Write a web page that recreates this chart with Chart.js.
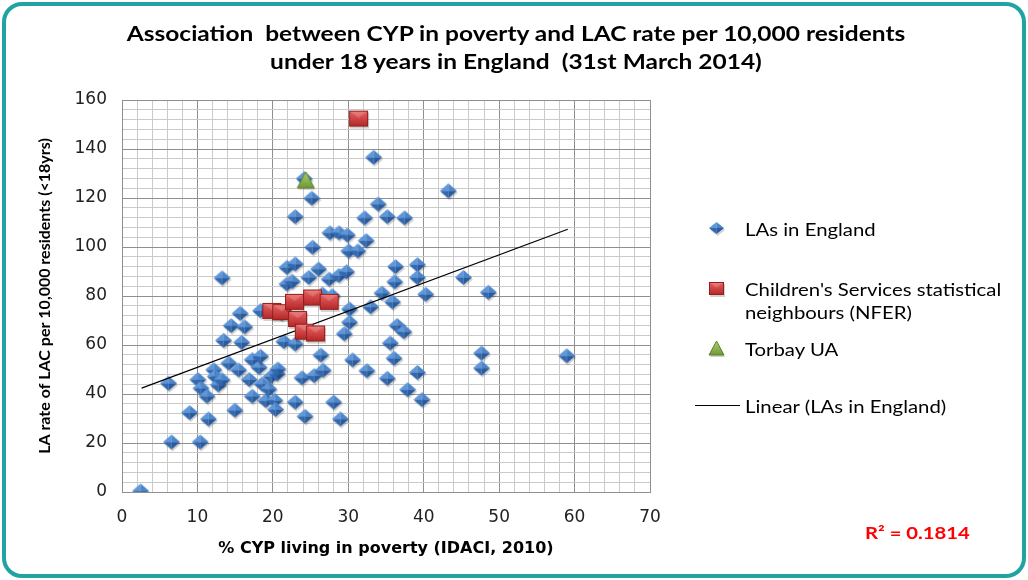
<!DOCTYPE html>
<html lang="en">
<head>
  <meta charset="UTF-8">
  <title>CYP in poverty and LAC rate - England 2014</title>
  <script src="https://cdn.jsdelivr.net/npm/chart.js@4"></script>
  <style>
    html, body { margin: 0; padding: 0; background: #fff; }
    body { width: 1028px; height: 580px; position: relative; overflow: hidden; font-family: Lato, "Open Sans", sans-serif; color: #000; }
    .frame { position: absolute; left: 2px; top: 2px; width: 1016px; height: 568px; border: 4px solid #21a3a3; border-radius: 20px; }
    #chart { position: absolute; left: 0; top: 0; }
    /* the original picture is stretched sideways, so the text is too */
    .title { position: absolute; left: 0; top: 19px; width: 1032px; text-align: center; font-weight: bold; font-size: 20px; line-height: 28px; white-space: pre; transform: scaleX(1.225); transform-origin: 516px 0; }
    .legend div { position: absolute; font-size: 18px; line-height: 23px; white-space: nowrap; transform: scaleX(1.13); transform-origin: 0 0; }
    .legend canvas { position: absolute; }
    .legend .line { position: absolute; left: 695px; top: 405px; width: 45px; height: 1px; background: #000; }
    .r2 { position: absolute; left: 865px; top: 522px; color: #ff0000; font-weight: bold; font-size: 17px; transform: scaleX(1.19); transform-origin: 0 0; }
  </style>
</head>
<body>
  <div class="frame"></div>
  <canvas id="chart" width="1028" height="580"></canvas>
  <div class="title">Association  between CYP in poverty and LAC rate per 10,000 residents
under 18 years in England  (31st March 2014)</div>
  <div class="legend" id="legend">
    <div style="left:745px; top:218px;">LAs in England</div>
    <div style="left:745px; top:278px;">Children's Services statistical<br>neighbours (NFER)</div>
    <div style="left:745px; top:338px;">Torbay UA</div>
    <span class="line"></span>
    <div style="left:745px; top:395px;">Linear (LAs in England)</div>
  </div>
  <div class="r2">R² = 0.1814</div>
  <script>
    // values
    const laPoverty = [2.6, 6.3, 6.7, 9.1, 10.2, 10.5, 10.6, 11.4, 11.6, 12.3, 12.5, 12.9, 13.4, 13.4, 13.6,
      14.3, 14.6, 15.1, 15.6, 15.8, 16.0, 16.4, 17.0, 17.4, 17.4, 18.3, 18.5, 18.5, 18.7, 19.2,
      19.6, 19.9, 20.4, 20.5, 20.7, 20.8, 21.3, 21.6, 22.0, 22.0, 22.7, 23.1, 23.1, 23.1, 23.1,
      24.0, 24.3, 24.4, 24.9, 25.3, 25.4, 25.6, 26.2, 26.5, 26.7, 26.8, 27.6, 27.7, 28.0, 28.2,
      28.9, 28.9, 29.1, 29.6, 29.9, 30.0, 30.2, 30.3, 30.3, 30.7, 31.4, 32.3, 32.5, 32.6, 33.1,
      33.5, 34.1, 34.6, 35.3, 35.3, 35.7, 36.0, 36.2, 36.3, 36.4, 36.6, 37.5, 37.6, 38.0, 39.3,
      39.3, 39.3, 39.9, 40.4, 43.4, 45.4, 47.8, 47.8, 48.7, 59.1];
    const laRate = [0, 44, 20, 32, 45.5, 20, 42, 38.7, 29.4, 49.5, 46.8, 43.3, 45.4, 87, 61.5,
      52.2, 67.5, 33, 49.4, 72.5, 60.7, 67, 45.5, 53.6, 38.7, 50.5, 55, 73.6, 43.7, 36.9,
      41.6, 46.8, 37, 33.3, 47.8, 49.8, 72.5, 61, 91.3, 84.5, 85.6, 92.7, 112, 60, 36.3,
      46.2, 127.5, 30.5, 87.2, 119.5, 99.5, 47.1, 90.6, 55.5, 80.4, 49.3, 86.5, 105.4, 79.7, 36.3,
      88, 105.4, 29.4, 64.2, 89.5, 104.5, 98, 74.3, 68.9, 53.5, 98, 111.5, 102.2, 49.1, 75.2,
      136.2, 117.1, 80.8, 112, 46, 60.4, 77.2, 54.2, 85.4, 91.6, 67.6, 65, 111.5, 41.4, 92.4,
      87.2, 48.4, 37.3, 80.3, 122.5, 87.2, 56.3, 50.2, 81.1, 55.2];
    const nferPoverty = [20.0, 21.3, 23.0, 25.4, 27.6, 23.4, 24.3, 25.8, 31.5];
    const nferRate = [73.5, 73.0, 77.2, 79.0, 77.2, 70.2, 65.0, 64.3, 152.0];
    const torbayPoverty = [24.5];
    const torbayRate = [127.0];
    const trendIntercept = 39.4;
    const trendSlope = 1.148;
    const xTickLabels = [0, 10, 20, 30, 40, 50, 60, 70];
    const yTickLabels = [0, 20, 40, 60, 80, 100, 120, 140, 160];

    const toPoints = (xs, ys) => xs.map((x, i) => ({ x: x, y: ys[i] }));
    const xMin = Math.min(...laPoverty), xMax = Math.max(...laPoverty);
    const trendPoints = [xMin, xMax].map(x => ({ x: x, y: trendIntercept + trendSlope * x }));

    // little 3d-ish marker images, like the Excel ones
    function makeCanvas(w, h) {
      const c = document.createElement('canvas');
      c.width = w; c.height = h;
      return c;
    }
    function poly(g, pts, fill) {
      g.beginPath();
      g.moveTo(pts[0][0], pts[0][1]);
      for (let i = 1; i < pts.length; i++) g.lineTo(pts[i][0], pts[i][1]);
      g.closePath();
      g.fillStyle = fill;
      g.fill();
    }
    function diamond(w, h) {
      const c = makeCanvas(w + 4, h + 4), g = c.getContext('2d');
      const cx = w / 2 + 1, cy = h / 2 + 1;
      poly(g, [[cx - w / 2 + 1, cy + 2], [cx + 1, cy - h / 2 + 2], [cx + w / 2 + 1, cy + 2], [cx + 1, cy + h / 2 + 2]], 'rgba(0,0,0,0.18)');
      poly(g, [[cx - w / 2, cy], [cx, cy - h / 2], [cx, cy]], '#5f97db');
      poly(g, [[cx, cy - h / 2], [cx + w / 2, cy], [cx, cy]], '#4b85cc');
      poly(g, [[cx - w / 2, cy], [cx, cy], [cx, cy + h / 2]], '#3069b2');
      poly(g, [[cx, cy], [cx + w / 2, cy], [cx, cy + h / 2]], '#285a9e');
      return c;
    }
    function square(w, h) {
      const c = makeCanvas(w + 4, h + 4), g = c.getContext('2d');
      g.fillStyle = 'rgba(0,0,0,0.18)';
      g.fillRect(2, 3, w, h);
      const grad = g.createLinearGradient(0, 1, 0, h + 1);
      grad.addColorStop(0, '#e96464');
      grad.addColorStop(1, '#b32525');
      g.fillStyle = grad;
      g.fillRect(1, 1, w, h);
      poly(g, [[1, 1], [w + 1, 1], [w / 2 + 1, h * 0.45 + 1]], 'rgba(255,255,255,0.18)');
      g.strokeStyle = '#921e1e';
      g.lineWidth = 1;
      g.strokeRect(1.5, 1.5, w - 1, h - 1);
      return c;
    }
    function triangle(w, h) {
      const c = makeCanvas(w + 4, h + 4), g = c.getContext('2d');
      poly(g, [[2, h + 3], [w / 2 + 2, 3], [w + 2, h + 3]], 'rgba(0,0,0,0.18)');
      const grad = g.createLinearGradient(0, 1, 0, h + 1);
      grad.addColorStop(0, '#b0cf6e');
      grad.addColorStop(1, '#6f9934');
      poly(g, [[1, h + 1], [w / 2 + 1, 1], [w + 1, h + 1]], grad);
      g.strokeStyle = '#5b822a';
      g.lineWidth = 1;
      g.stroke();
      return c;
    }

    const blueMark = diamond(17, 15);
    const redMark = square(19, 16);
    const greenMark = triangle(17, 16);

    // legend markers
    const legend = document.getElementById('legend');
    [[diamond(15, 12), 717, 229], [square(15, 13), 717, 289], [triangle(15, 14), 717, 349]].forEach(m => {
      const cv = m[0];
      cv.style.left = (m[1] - cv.width / 2) + 'px';
      cv.style.top = (m[2] - cv.height / 2) + 'px';
      legend.appendChild(cv);
    });

    const gridColor = (ctx, major) => (ctx.tick && ctx.tick.value % major === 0) ? '#8f8f8f' : '#cacaca';
    const tickFont = { family: 'DejaVu Sans', size: 17 };
    const xTitleFont = { family: 'DejaVu Sans', size: 16, weight: 'bold' };
    const yTitleFont = { family: 'Lato', size: 16, weight: 'bold' };

    new Chart(document.getElementById('chart'), {
      type: 'scatter',
      data: {
        datasets: [
          { label: 'Torbay UA', data: toPoints(torbayPoverty, torbayRate), pointStyle: greenMark, pointRadius: 9, order: 0 },
          { label: "Children's Services statistical neighbours (NFER)", data: toPoints(nferPoverty, nferRate), pointStyle: redMark, pointRadius: 9, order: 1 },
          { label: 'Linear (LAs in England)', type: 'line', data: trendPoints, showLine: true, borderColor: '#000', borderWidth: 1.2, pointRadius: 0, fill: false, order: 2 },
          { label: 'LAs in England', data: toPoints(laPoverty, laRate), pointStyle: blueMark, pointRadius: 8, order: 3 }
        ]
      },
      options: {
        responsive: false,
        animation: false,
        layout: { padding: { left: 0, top: 100, right: 378, bottom: 0 } },
        plugins: { legend: { display: false }, tooltip: { enabled: false } },
        scales: {
          x: {
            type: 'linear', min: 0, max: 70,
            afterFit: s => { s.height = 88; },
            ticks: { stepSize: 2, autoSkip: false, maxRotation: 0, padding: 15, color: '#222', font: tickFont,
              callback: v => xTickLabels.includes(v) ? v : '' },
            grid: { color: c => gridColor(c, 10), drawTicks: false },
            border: { color: '#8f8f8f' },
            title: { display: true, text: '% CYP living in poverty (IDACI, 2010)', color: '#000', font: xTitleFont, padding: { top: 0, bottom: 22 } }
          },
          y: {
            min: 0, max: 160,
            afterFit: s => { s.width = 122; },
            ticks: { stepSize: 4, autoSkip: false, padding: 15, color: '#222', font: tickFont,
              callback: v => yTickLabels.includes(v) ? v : '' },
            grid: { color: c => gridColor(c, 20), drawTicks: false },
            border: { color: '#8f8f8f' },
            title: { display: true, text: 'LA rate of LAC per 10,000 residents (<18yrs)', color: '#000', font: yTitleFont, padding: { top: 35, bottom: 0 } }
          }
        }
      }
    });
  </script>
</body>
</html>
